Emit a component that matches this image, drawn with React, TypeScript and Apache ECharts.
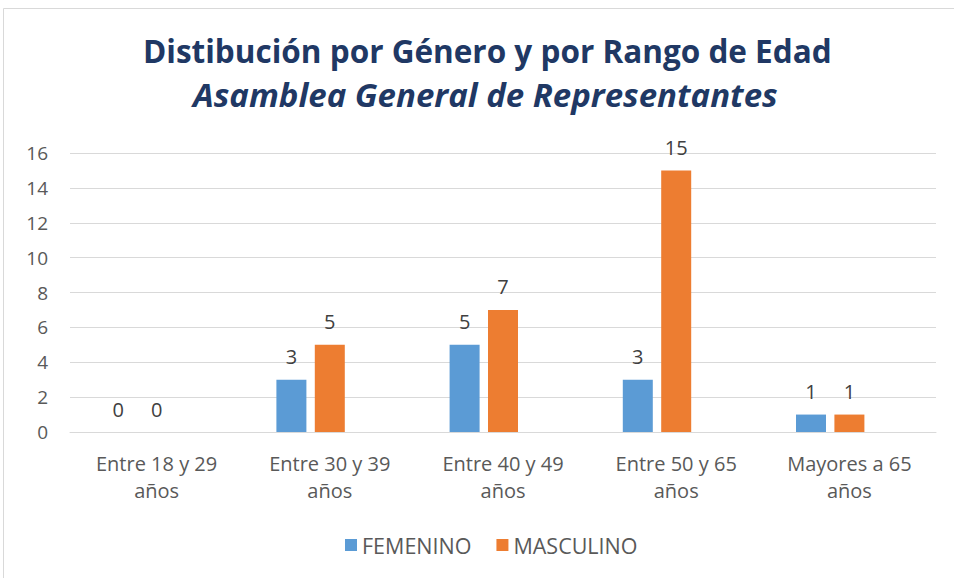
import React, { useEffect, useRef } from "react";
import * as echarts from "echarts";

const categories = [
  "Entre 18 y 29\naños",
  "Entre 30 y 39\naños",
  "Entre 40 y 49\naños",
  "Entre 50 y 65\naños",
  "Mayores a 65\naños",
];
const femenino = [0, 3, 5, 3, 1];
const masculino = [0, 5, 7, 15, 1];
const yTicks = { min: 0, max: 16, interval: 2 };
const titleMain = "Distibución por Género y por Rango de Edad";
const titleSub = "Asamblea General de Representantes";

const FONT = "'Open Sans', 'Noto Sans', sans-serif";

export default function App() {
  const ref = useRef<HTMLDivElement>(null);
  useEffect(() => {
    if (!ref.current) return;
    const chart = echarts.init(ref.current, undefined, { renderer: "svg" });
    const labelCfg = {
      show: true,
      position: "top",
      distance: 13,
      color: "#404040",
      fontSize: 20,
      fontFamily: FONT,
    };
    chart.setOption({
      animation: false,
      backgroundColor: "#ffffff",
      textStyle: { fontFamily: FONT },
      graphic: [
        {
          type: "rect",
          shape: { x: 3.5, y: 8.5, width: 980, height: 620 },
          style: { fill: "none", stroke: "#d9d9d9", lineWidth: 1 },
          silent: true,
        },
      ],
      title: [
        {
          text: titleMain,
          left: 143,
          top: 34,
          padding: 0,
          textStyle: {
            color: "#203864",
            fontSize: 31.5,
            fontWeight: "bold",
            fontFamily: FONT,
          },
        },
        {
          text: titleSub,
          left: 193,
          top: 78,
          padding: 0,
          textStyle: {
            color: "#203864",
            fontSize: 33,
            fontWeight: "bold",
            fontStyle: "italic",
            fontFamily: FONT,
          },
        },
      ],
      legend: {
        top: 534,
        left: 345,
        padding: 0,
        data: ["FEMENINO", "MASCULINO"],
        itemWidth: 12,
        itemHeight: 12,
        itemGap: 25,
        icon: "rect",
        textStyle: { color: "#595959", fontSize: 21.5, fontFamily: FONT },
      },
      grid: { left: 70, right: 18, top: 153, bottom: 146, containLabel: false },
      xAxis: {
        type: "category",
        data: categories,
        axisLine: { show: true, lineStyle: { color: "#d9d9d9" } },
        axisTick: { show: false },
        axisLabel: {
          color: "#595959",
          fontSize: 20,
          lineHeight: 27,
          margin: 18,
          fontFamily: FONT,
          interval: 0,
        },
      },
      yAxis: {
        type: "value",
        min: yTicks.min,
        max: yTicks.max,
        interval: yTicks.interval,
        axisLine: { show: false },
        axisTick: { show: false },
        splitLine: { lineStyle: { color: "#d9d9d9", width: 1 } },
        axisLabel: { color: "#595959", fontSize: 19, margin: 22, fontFamily: FONT },
      },
      series: [
        {
          name: "FEMENINO",
          type: "bar",
          data: femenino,
          barWidth: 30,
          barGap: "28%",
          itemStyle: { color: "#5b9bd5" },
          label: labelCfg,
        },
        {
          name: "MASCULINO",
          type: "bar",
          data: masculino,
          barWidth: 30,
          barGap: "28%",
          itemStyle: { color: "#ed7d31" },
          label: labelCfg,
        },
        {
          name: "",
          type: "bar",
          data: categories.map(() => null),
          barWidth: 30,
          barGap: "28%",
          itemStyle: { color: "#a5a5a5" },
        },
      ],
    });
    return () => chart.dispose();
  }, []);
  return (
    <div
      ref={ref}
      style={{ position: "absolute", left: 0, top: 0, width: 954, height: 578 }}
    />
  );
}
